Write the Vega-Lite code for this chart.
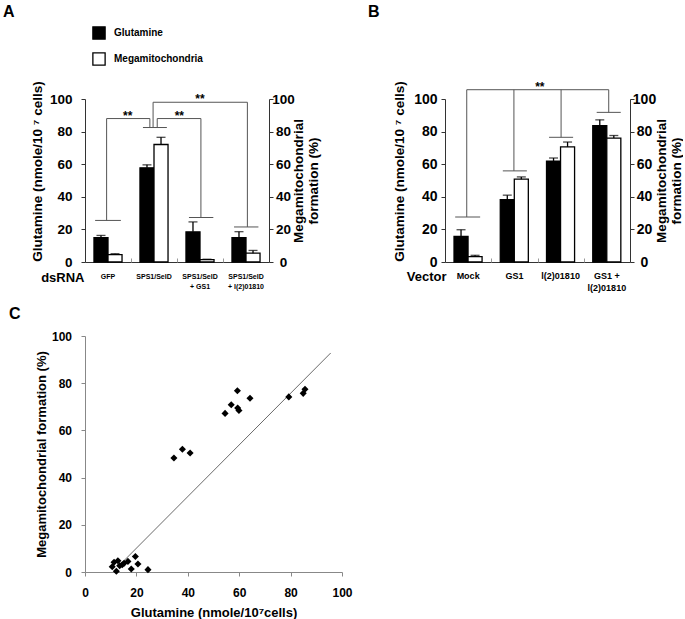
{
  "$schema": "https://vega.github.io/schema/vega-lite/v6.json",
  "background": "white",
  "padding": {"left": 3, "top": 3, "right": 0, "bottom": 0},
  "datasets": {
    "barsA": [
      {"grp": "GFP", "series": "Glutamine", "v": 14.9, "hi": 16.3},
      {"grp": "GFP", "series": "Megamitochondria", "v": 4.5, "hi": 5.1},
      {"grp": "SPS1/SelD", "series": "Glutamine", "v": 57.8, "hi": 59.6},
      {"grp": "SPS1/SelD", "series": "Megamitochondria", "v": 72.1, "hi": 76.5},
      {"grp": "SPS1/SelD|+ GS1", "series": "Glutamine", "v": 18.5, "hi": 24.6},
      {"grp": "SPS1/SelD|+ GS1", "series": "Megamitochondria", "v": 1.5, "hi": 1.7},
      {"grp": "SPS1/SelD|+ l(2)01810", "series": "Glutamine", "v": 15.0, "hi": 18.6},
      {"grp": "SPS1/SelD|+ l(2)01810", "series": "Megamitochondria", "v": 5.4, "hi": 7.1}
    ],
    "barsB": [
      {"grp": "Mock", "series": "Glutamine", "v": 15.7, "hi": 19.8},
      {"grp": "Mock", "series": "Megamitochondria", "v": 3.3, "hi": 4.1},
      {"grp": "GS1", "series": "Glutamine", "v": 38.2, "hi": 41.0},
      {"grp": "GS1", "series": "Megamitochondria", "v": 50.8, "hi": 52.2},
      {"grp": "l(2)01810", "series": "Glutamine", "v": 61.8, "hi": 63.8},
      {"grp": "l(2)01810", "series": "Megamitochondria", "v": 70.6, "hi": 73.6},
      {"grp": "GS1 +|l(2)01810", "series": "Glutamine", "v": 83.6, "hi": 87.2},
      {"grp": "GS1 +|l(2)01810", "series": "Megamitochondria", "v": 76.0, "hi": 77.6}
    ],
    "brA": [
      {"x": 0.22, "x2": 0.78, "y": 25.5, "y2": 25.5},
      {"x": 0.47, "x2": 0.47, "y": 25.5, "y2": 88},
      {"x": 0.47, "x2": 1.41, "y": 88, "y2": 88},
      {"x": 1.41, "x2": 1.41, "y": 88, "y2": 82.5},
      {"x": 1.26, "x2": 1.78, "y": 82.5, "y2": 82.5},
      {"x": 1.48, "x2": 1.48, "y": 82.5, "y2": 98},
      {"x": 1.48, "x2": 3.53, "y": 98, "y2": 98},
      {"x": 3.53, "x2": 3.53, "y": 98, "y2": 21.5},
      {"x": 3.24, "x2": 3.77, "y": 21.5, "y2": 21.5},
      {"x": 1.57, "x2": 1.57, "y": 82.5, "y2": 88},
      {"x": 1.57, "x2": 2.52, "y": 88, "y2": 88},
      {"x": 2.52, "x2": 2.52, "y": 88, "y2": 27.3},
      {"x": 2.26, "x2": 2.79, "y": 27.3, "y2": 27.3}
    ],
    "starsA": [
      {"x": 0.93, "y": 88, "t": "**"},
      {"x": 2.05, "y": 88, "t": "**"},
      {"x": 2.5, "y": 98, "t": "**"}
    ],
    "brB": [
      {"x": 0.22, "x2": 0.76, "y": 27.6, "y2": 27.6},
      {"x": 0.47, "x2": 0.47, "y": 27.6, "y2": 105.7},
      {"x": 1.25, "x2": 1.77, "y": 55.9, "y2": 55.9},
      {"x": 1.49, "x2": 1.49, "y": 55.9, "y2": 105.7},
      {"x": 2.25, "x2": 2.77, "y": 76.5, "y2": 76.5},
      {"x": 2.51, "x2": 2.51, "y": 76.5, "y2": 105.7},
      {"x": 3.28, "x2": 3.8, "y": 91.8, "y2": 91.8},
      {"x": 3.54, "x2": 3.54, "y": 91.8, "y2": 105.7},
      {"x": 0.47, "x2": 3.54, "y": 105.7, "y2": 105.7}
    ],
    "starsB": [
      {"x": 2.05, "y": 105.7, "t": "**"}
    ],
    "scatter": [
      {"glu": 10.6, "mega": 2.2},
      {"glu": 11.3, "mega": 4.1},
      {"glu": 12.2, "mega": 0.3},
      {"glu": 12.8, "mega": 4.8},
      {"glu": 13.5, "mega": 2.7},
      {"glu": 14.5, "mega": 3.1},
      {"glu": 15.2, "mega": 3.7},
      {"glu": 16.7, "mega": 4.5},
      {"glu": 18.0, "mega": 1.3},
      {"glu": 19.6, "mega": 6.6},
      {"glu": 20.6, "mega": 3.4},
      {"glu": 24.5, "mega": 1.0},
      {"glu": 34.6, "mega": 48.3},
      {"glu": 37.9, "mega": 52.0},
      {"glu": 40.9, "mega": 50.4},
      {"glu": 54.5, "mega": 67.2},
      {"glu": 56.9, "mega": 70.9},
      {"glu": 59.3, "mega": 76.8},
      {"glu": 59.4, "mega": 69.5},
      {"glu": 59.9, "mega": 68.4},
      {"glu": 64.2, "mega": 73.6},
      {"glu": 79.3, "mega": 74.2},
      {"glu": 84.9, "mega": 75.7},
      {"glu": 85.6, "mega": 77.4}
    ],
    "fit": [
      {"glu": 14.8, "mega": 4.4},
      {"glu": 95.6, "mega": 92.8}
    ]
  },
  "vconcat": [
    {
      "hconcat": [
        {
          "title": {"text": "A", "dx": -82, "offset": 61},
          "width": 184,
          "height": 163,
          "layer": [
            {
              "data": {"name": "barsA"},
              "encoding": {
                "x": {"field": "grp", "type": "nominal", "sort": null,
                  "scale": {"paddingInner": 0.39, "paddingOuter": 0.195},
                  "axis": {"title": "dsRNA", "labelExpr": "split(datum.label, '|')", "labelAngle": 0, "ticks": false,
                    "labelFontSize": 7, "labelLineHeight": 10, "labelPadding": 10, "labelOverlap": false,
                    "titleFontSize": 13, "titleAlign": "right", "titleBaseline": "middle", "titleX": -1, "titleY": 15}},
                "xOffset": {"field": "series", "type": "nominal", "sort": ["Glutamine", "Megamitochondria"]},
                "y": {"field": "v", "type": "quantitative", "scale": {"domain": [0, 100]},
                  "axis": {"title": "Glutamine (nmole/10 \u2077 cells)", "values": [0, 20, 40, 60, 80, 100], "tickSize": 4,
                    "labelPadding": 9, "labelFontSize": 13.5, "titleFontSize": 13.5, "titlePadding": 5, "titleY": 72}}
              },
              "layer": [
                {"mark": {"type": "bar", "stroke": "black", "strokeWidth": 1.3},
                  "encoding": {"fill": {"field": "series", "type": "nominal",
                    "scale": {"domain": ["Glutamine", "Megamitochondria"], "range": ["black", "white"]},
                    "legend": {"orient": "none", "legendX": 7, "legendY": -73, "title": null, "direction": "vertical",
                      "symbolType": "square", "symbolSize": 150, "symbolStrokeColor": "black", "symbolStrokeWidth": 1.3,
                      "labelFontSize": 10, "labelFontWeight": "bold", "rowPadding": 8, "labelOffset": 8}}}},
                {"mark": {"type": "rule", "color": "black", "strokeWidth": 1.3},
                  "encoding": {"y2": {"field": "hi"}}},
                {"mark": {"type": "tick", "orient": "horizontal", "color": "black", "thickness": 1.3, "size": 9},
                  "encoding": {"y": {"field": "hi", "type": "quantitative"}}}
              ]
            },
            {
              "encoding": {
                "x": {"field": "x", "type": "quantitative", "scale": {"domain": [0, 4], "nice": false, "zero": false},
                  "axis": {"orient": "bottom", "values": [1, 2, 3], "tickSize": -4, "labels": false, "domain": false, "title": null, "tickColor": "#999"}},
                "y": {"field": "y", "type": "quantitative", "scale": {"domain": [0, 100], "nice": false},
                  "axis": {"orient": "right", "title": ["Megamitochondrial", "formation (%)"], "titleAngle": 270, "titleBaseline": "top",
                    "titleX": 22, "values": [0, 20, 40, 60, 80, 100], "tickSize": 4, "labelAlign": "center", "labelPadding": 10,
                    "labelFontSize": 13.5, "titleFontSize": 13.5, "titleLineHeight": 15}}
              },
              "layer": [
                {"data": {"name": "brA"}, "mark": {"type": "rule", "color": "#555", "strokeWidth": 1},
                  "encoding": {"x2": {"field": "x2"}, "y2": {"field": "y2"}}},
                {"data": {"name": "starsA"}, "mark": {"type": "text", "fontSize": 12, "fontWeight": "bold", "baseline": "alphabetic", "dy": 1},
                  "encoding": {"text": {"field": "t"}}}
              ]
            }
          ],
          "resolve": {"scale": {"x": "independent", "y": "independent"}, "axis": {"x": "independent", "y": "independent"}}
        },
        {
          "title": {"text": "B", "dx": -77, "offset": 61},
          "width": 185,
          "height": 163,
          "layer": [
            {
              "data": {"name": "barsB"},
              "encoding": {
                "x": {"field": "grp", "type": "nominal", "sort": null,
                  "scale": {"paddingInner": 0.39, "paddingOuter": 0.195},
                  "axis": {"title": "Vector", "labelExpr": "split(datum.label, '|')", "labelAngle": 0, "ticks": false,
                    "labelFontSize": 9, "labelLineHeight": 12.5, "labelPadding": 9, "labelOverlap": false,
                    "titleFontSize": 13, "titleAlign": "right", "titleBaseline": "middle", "titleX": 1, "titleY": 14}},
                "xOffset": {"field": "series", "type": "nominal", "sort": ["Glutamine", "Megamitochondria"]},
                "y": {"field": "v", "type": "quantitative", "scale": {"domain": [0, 100]},
                  "axis": {"title": "Glutamine (nmole/10 \u2077 cells)", "values": [0, 20, 40, 60, 80, 100], "tickSize": 4,
                    "labelPadding": 4, "labelFontSize": 14, "titleFontSize": 13.5, "titlePadding": 7, "titleY": 72}}
              },
              "layer": [
                {"mark": {"type": "bar", "stroke": "black", "strokeWidth": 1.3},
                  "encoding": {"fill": {"field": "series", "type": "nominal",
                    "scale": {"domain": ["Glutamine", "Megamitochondria"], "range": ["black", "white"]},
                    "legend": {"orient": "none", "legendX": 10, "legendY": -73, "title": null, "direction": "vertical",
                      "symbolType": "square", "symbolSize": 150, "symbolStrokeColor": "black", "symbolStrokeWidth": 1.3,
                      "labelFontSize": 10, "labelFontWeight": "bold", "rowPadding": 8, "labelOffset": 8}}}},
                {"mark": {"type": "rule", "color": "black", "strokeWidth": 1.3},
                  "encoding": {"y2": {"field": "hi"}}},
                {"mark": {"type": "tick", "orient": "horizontal", "color": "black", "thickness": 1.3, "size": 9},
                  "encoding": {"y": {"field": "hi", "type": "quantitative"}}}
              ]
            },
            {
              "encoding": {
                "x": {"field": "x", "type": "quantitative", "scale": {"domain": [0, 4], "nice": false, "zero": false},
                  "axis": {"orient": "bottom", "values": [1, 2, 3], "tickSize": -4, "labels": false, "domain": false, "title": null, "tickColor": "#999"}},
                "y": {"field": "y", "type": "quantitative", "scale": {"domain": [0, 100], "nice": false},
                  "axis": {"orient": "right", "title": ["Megamitochondrial", "formation (%)"], "titleAngle": 270, "titleBaseline": "top",
                    "titleX": 24, "values": [0, 20, 40, 60, 80, 100], "tickSize": 4, "labelAlign": "center", "labelPadding": 10,
                    "labelFontSize": 14, "titleFontSize": 13.5, "titleLineHeight": 15}}
              },
              "layer": [
                {"data": {"name": "brB"}, "mark": {"type": "rule", "color": "#555", "strokeWidth": 1},
                  "encoding": {"x2": {"field": "x2"}, "y2": {"field": "y2"}}},
                {"data": {"name": "starsB"}, "mark": {"type": "text", "fontSize": 12, "fontWeight": "bold", "baseline": "alphabetic", "dy": 1},
                  "encoding": {"text": {"field": "t"}}}
              ]
            }
          ],
          "resolve": {"scale": {"x": "independent", "y": "independent"}, "axis": {"x": "independent", "y": "independent"}}
        }
      ],
      "bounds": "flush",
      "spacing": 176
    },
    {
      "title": {"text": "C", "dx": -76, "offset": 8},
      "width": 257,
      "height": 236,
      "encoding": {
        "x": {"field": "glu", "type": "quantitative", "scale": {"domain": [0, 100], "nice": false},
          "axis": {"title": "Glutamine (nmole/10\u2077cells)", "values": [0, 20, 40, 60, 80, 100], "tickSize": 4,
            "labelPadding": 11, "labelFontSize": 12, "titleFontSize": 13, "titlePadding": 8, "labelFlush": false,
            "domainColor": "#888", "tickColor": "#888"}},
        "y": {"field": "mega", "type": "quantitative", "scale": {"domain": [0, 100], "nice": false},
          "axis": {"title": "Megamitochondrial formation (%)", "values": [0, 20, 40, 60, 80, 100], "tickSize": 4,
            "labelPadding": 9.5, "labelFontSize": 12, "titleFontSize": 13, "titlePadding": 3,
            "domainColor": "#888", "tickColor": "#888"}}
      },
      "layer": [
        {"data": {"name": "fit"}, "mark": {"type": "line", "color": "#444", "strokeWidth": 0.8}},
        {"data": {"name": "scatter"}, "mark": {"type": "point", "shape": "diamond", "filled": true, "color": "black", "opacity": 1, "size": 50}}
      ]
    }
  ],
  "bounds": "full",
  "spacing": 13,
  "config": {
    "font": "Liberation Sans",
    "view": {"stroke": null},
    "axis": {"labelFontWeight": "bold", "titleFontWeight": "bold", "labelColor": "black", "titleColor": "black",
      "domainColor": "#333", "tickColor": "#333", "grid": false},
    "title": {"fontSize": 16, "fontWeight": "bold", "anchor": "start", "frame": "group", "color": "black"}
  }
}
